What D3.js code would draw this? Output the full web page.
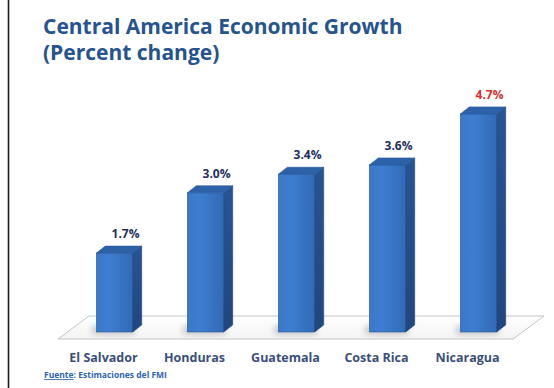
<!DOCTYPE html>
<html>
<head>
<meta charset="utf-8">
<script src="https://cdn.jsdelivr.net/npm/d3@7"></script>
<style>
  html, body { margin: 0; padding: 0; background: #fff; }
  svg { display: block; }
  text { font-family: "Open Sans", Lato, sans-serif; }
</style>
</head>
<body>
<svg id="chart" width="554" height="388"></svg>
<script>
// Growth estimates by country (percent change)
const categories = ["El Salvador", "Honduras", "Guatemala", "Costa Rica", "Nicaragua"];
const growth = [1.7, 3.0, 3.4, 3.6, 4.7];
const valueLabels = ["1.7%", "3.0%", "3.4%", "3.6%", "4.7%"];
const titleLines = ["Central America Economic Growth", "(Percent change)"];
const sourceLabel = "Fuente";
const sourceText = ": Estimaciones del FMI";

const W = 554, H = 388;
const svg = d3.select("#chart");

// 3D geometry
const depthX = 9, depthY = -7;          // bar cap offset
const floorFront = 339, floorBack = 316, floorSkew = 31;
const barShift = 11;                     // bars stand back from the floor front edge

const x = d3.scaleBand().domain(categories).range([58, 513]).paddingInner(0.6).paddingOuter(0.3);
const y = d3.scaleLinear().domain([0, 5]).range([332, 100]);

const defs = svg.append("defs");
const front = defs.append("linearGradient").attr("id", "front").attr("x1", 0).attr("y1", 0).attr("x2", 1).attr("y2", 0);
front.append("stop").attr("offset", "0%").attr("stop-color", "#3a78c8");
front.append("stop").attr("offset", "35%").attr("stop-color", "#3e7ed0");
front.append("stop").attr("offset", "100%").attr("stop-color", "#3169b6");
const side = defs.append("linearGradient").attr("id", "side").attr("x1", 0).attr("y1", 0).attr("x2", 0).attr("y2", 1);
side.append("stop").attr("offset", "0%").attr("stop-color", "#285494");
side.append("stop").attr("offset", "100%").attr("stop-color", "#20467d");
const floorG = defs.append("linearGradient").attr("id", "floorg").attr("x1", 0).attr("y1", 0).attr("x2", 0).attr("y2", 1);
floorG.append("stop").attr("offset", "0%").attr("stop-color", "#ffffff");
floorG.append("stop").attr("offset", "100%").attr("stop-color", "#f3f3f3");
defs.append("filter").attr("id", "blur").attr("x", "-50%").attr("y", "-50%").attr("width", "200%").attr("height", "200%")
  .append("feGaussianBlur").attr("stdDeviation", 3);

// frame edge on the left
svg.append("line").attr("x1", 8.5).attr("x2", 8.5).attr("y1", 0).attr("y2", H)
  .attr("stroke", "#1c1c1c").attr("stroke-width", 1.6);

// title
svg.append("g").selectAll("text").data(titleLines).join("text")
  .attr("x", 43).attr("y", (d, i) => 34 + i * 26)
  .attr("fill", "#27548e").attr("font-weight", 700).attr("font-size", 21)
  .text(d => d);

// floor
const [fx0, fx1] = x.range();
svg.append("polygon")
  .attr("points", [[fx0, floorFront], [fx1, floorFront], [fx1 + floorSkew, floorBack], [fx0 + floorSkew, floorBack]].map(p => p.join(",")).join(" "))
  .attr("fill", "url(#floorg)").attr("stroke", "#c6c6c6").attr("stroke-width", 1);

const data = categories.map((c, i) => ({ c, v: growth[i], label: valueLabels[i] }));
const bw = x.bandwidth();
const bx = d => x(d.c) + barShift;

// soft shadows on the floor
svg.append("g").selectAll("rect").data(data).join("rect")
  .attr("x", d => bx(d) - 4).attr("y", y(0) - 6).attr("width", bw + 6).attr("height", 8)
  .attr("fill", "#000").attr("opacity", 0.22).attr("filter", "url(#blur)");

const bars = svg.append("g").selectAll("g").data(data).join("g");

// front face
bars.append("rect")
  .attr("x", bx).attr("y", d => y(d.v))
  .attr("width", bw).attr("height", d => y(0) - y(d.v))
  .attr("fill", "url(#front)").attr("stroke", "#2b5c9f").attr("stroke-width", 0.6);

// side face
bars.append("polygon")
  .attr("points", d => {
    const xr = bx(d) + bw, t = y(d.v), b = y(0);
    return [[xr, t], [xr + depthX, t + depthY], [xr + depthX, b + depthY], [xr, b]].map(p => p.join(",")).join(" ");
  })
  .attr("fill", "url(#side)").attr("stroke", "#20467d").attr("stroke-width", 0.6);

// top cap
bars.append("polygon")
  .attr("points", d => {
    const xl = bx(d), t = y(d.v);
    return [[xl, t], [xl + depthX, t + depthY], [xl + bw + depthX, t + depthY], [xl + bw, t]].map(p => p.join(",")).join(" ");
  })
  .attr("fill", "#2d62a9").attr("stroke", "#27589a").attr("stroke-width", 0.6);

// value labels
bars.append("text")
  .attr("x", d => bx(d) + bw / 2 + 11).attr("y", d => y(d.v) + depthY - 8)
  .attr("text-anchor", "middle").attr("font-weight", 700).attr("font-size", 12)
  .attr("fill", d => d.c === "Nicaragua" ? "#d2312e" : "#1f2f5f")
  .text(d => d.label);

// category axis
const axis = svg.append("g").attr("transform", `translate(0,${floorFront})`)
  .call(d3.axisBottom(x).tickSize(0).tickPadding(14));
axis.select(".domain").remove();
axis.selectAll("text")
  .attr("font-family", "'Open Sans', Lato, sans-serif")
  .attr("font-weight", 700).attr("font-size", 12.5).attr("fill", "#3b4f7b");

// source note
const src = svg.append("text").attr("x", 44).attr("y", 378)
  .attr("font-size", 8.5).attr("font-weight", 700).attr("fill", "#3064ae");
src.append("tspan").attr("text-decoration", "underline").text(sourceLabel);
src.append("tspan").text(sourceText);
</script>
</body>
</html>
